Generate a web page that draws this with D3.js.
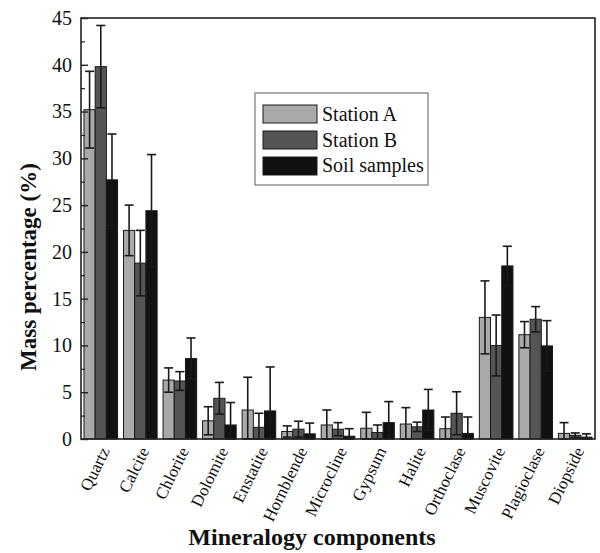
<!DOCTYPE html>
<html lang="en">
<head>
<meta charset="utf-8">
<title>Mineralogy components</title>
<script src="https://d3js.org/d3.v7.min.js"></script>
<style>
  body { margin: 0; background: #fff; }
  svg text { font-family: 'Liberation Serif', serif; fill: #111; }
  .bar { stroke: #1a1a1a; stroke-width: 1px; }
  .err { stroke: #1a1a1a; stroke-width: 1.6px; fill: none; }
</style>
</head>
<body>
<div id="chart"></div>
<script>
var minerals = ["Quartz", "Calcite", "Chlorite", "Dolomite", "Enstatite", "Hornblende",
  "Microcline", "Gypsum", "Halite", "Orthoclase", "Muscovite", "Plagioclase", "Diopside"];
var seriesNames = ["Station A", "Station B", "Soil samples"];
var stationA = [35.2, 22.3, 6.3, 1.95, 3.1, 0.8, 1.5, 1.15, 1.6, 1.1, 13.0, 11.15, 0.6];
var stationAErr = [4.1, 2.7, 1.3, 1.5, 3.5, 0.6, 1.6, 1.7, 1.75, 1.25, 3.9, 1.4, 1.15];
var stationB = [39.8, 18.8, 6.2, 4.35, 1.25, 1.05, 1.05, 0.7, 1.3, 2.75, 10.0, 12.8, 0.4];
var stationBErr = [4.4, 3.5, 1.0, 1.7, 1.5, 0.85, 0.7, 0.8, 0.5, 2.3, 3.25, 1.35, 0.25];
var soil = [27.7, 24.4, 8.6, 1.5, 3.0, 0.55, 0.3, 1.75, 3.1, 0.6, 18.5, 9.95, 0.2];
var soilErr = [4.9, 6.0, 2.2, 2.4, 4.7, 1.15, 0.8, 2.25, 2.2, 1.75, 2.1, 2.7, 0.35];
var yTicks = [0, 5, 10, 15, 20, 25, 30, 35, 40, 45];
var colors = ["#a9a9a9", "#555555", "#111111"];

var values = [stationA, stationB, soil];
var errors = [stationAErr, stationBErr, soilErr];

var width = 600, height = 553;
var margin = {left: 81, right: 5, top: 18, bottom: 114};
var serif = "'Liberation Serif', serif";

var svg = d3.select("#chart").append("svg")
  .attr("width", width).attr("height", height);

var x = d3.scaleBand().domain(minerals)
  .range([margin.left, width - margin.right])
  .paddingInner(0.15).paddingOuter(0.075);
var xs = d3.scaleBand().domain(d3.range(3)).range([0, x.bandwidth()]);
var y = d3.scaleLinear().domain([0, 45]).range([height - margin.bottom, margin.top]);

// bars
var groups = svg.selectAll(".grp").data(minerals).enter().append("g")
  .attr("transform", function(d) { return "translate(" + x(d) + ",0)"; });

seriesNames.forEach(function(s, k) {
  groups.append("rect").attr("class", "bar")
    .attr("x", xs(k)).attr("width", xs.bandwidth())
    .attr("y", function(d, i) { return y(values[k][i]); })
    .attr("height", function(d, i) { return y(0) - y(values[k][i]); })
    .attr("fill", colors[k]);
});

// error bars (symmetric, capped at both ends)
seriesNames.forEach(function(s, k) {
  groups.each(function(d, i) {
    var g = d3.select(this);
    var cx = xs(k) + xs.bandwidth() / 2;
    var lo = Math.max(0, values[k][i] - errors[k][i]);
    var hi = values[k][i] + errors[k][i];
    g.append("line").attr("class", "err")
      .attr("x1", cx).attr("x2", cx).attr("y1", y(lo)).attr("y2", y(hi));
    [lo, hi].forEach(function(v) {
      g.append("line").attr("class", "err")
        .attr("x1", cx - 4.5).attr("x2", cx + 4.5).attr("y1", y(v)).attr("y2", y(v));
    });
  });
});

// frame
svg.append("rect")
  .attr("x", margin.left).attr("y", margin.top)
  .attr("width", width - margin.right - margin.left)
  .attr("height", y(0) - margin.top)
  .attr("fill", "none").attr("stroke", "#222").attr("stroke-width", 1.6);

// y axis, inward ticks, minor ticks at halves
var yAxis = svg.append("g").attr("transform", "translate(" + margin.left + ",0)")
  .call(d3.axisLeft(y).tickValues(yTicks).tickSize(-7).tickPadding(9));
yAxis.attr("font-family", null).attr("font-size", null);
yAxis.select(".domain").remove();
yAxis.selectAll("line").attr("stroke", "#222").attr("stroke-width", 1.4);
yAxis.selectAll("text").style("font-size", "20px").style("font-family", serif).attr("fill", "#111");
svg.append("g").attr("transform", "translate(" + margin.left + ",0)")
  .call(d3.axisLeft(y).tickValues(yTicks.slice(0, -1).map(function(t) { return t + 2.5; }))
    .tickSize(-4).tickFormat(""))
  .call(function(g) {
    g.select(".domain").remove();
    g.selectAll("line").attr("stroke", "#222").attr("stroke-width", 1.2);
  });

// x labels
var xAxis = svg.append("g").attr("transform", "translate(0," + y(0) + ")")
  .call(d3.axisBottom(x).tickSize(0).tickPadding(0));
xAxis.attr("font-family", null).attr("font-size", null);
xAxis.select(".domain").remove();
xAxis.selectAll("text")
  .style("font-size", "17px").style("font-family", serif).attr("fill", "#111")
  .attr("text-anchor", "end").attr("dy", "0.35em")
  .attr("transform", "translate(4,9) rotate(-64)");

// axis titles
svg.append("text")
  .attr("transform", "translate(36,267) rotate(-90)")
  .attr("text-anchor", "middle")
  .style("font-family", serif).style("font-size", "23px").style("font-weight", "bold")
  .text("Mass percentage (%)");
svg.append("text")
  .attr("x", 312).attr("y", 545)
  .attr("text-anchor", "middle")
  .style("font-family", serif).style("font-size", "24px").style("font-weight", "bold")
  .text("Mineralogy components");

// legend
var legend = svg.append("g").attr("transform", "translate(255,93)");
legend.append("rect").attr("width", 173).attr("height", 92)
  .attr("fill", "#fff").attr("stroke", "#777").attr("stroke-width", 1.2);
seriesNames.forEach(function(s, k) {
  legend.append("rect").attr("class", "bar")
    .attr("x", 8).attr("y", 12 + k * 26).attr("width", 54).attr("height", 18)
    .attr("fill", colors[k]);
  legend.append("text").attr("x", 67).attr("y", 28 + k * 25.5)
    .style("font-family", serif).style("font-size", "20px").text(s);
});
</script>
</body>
</html>
